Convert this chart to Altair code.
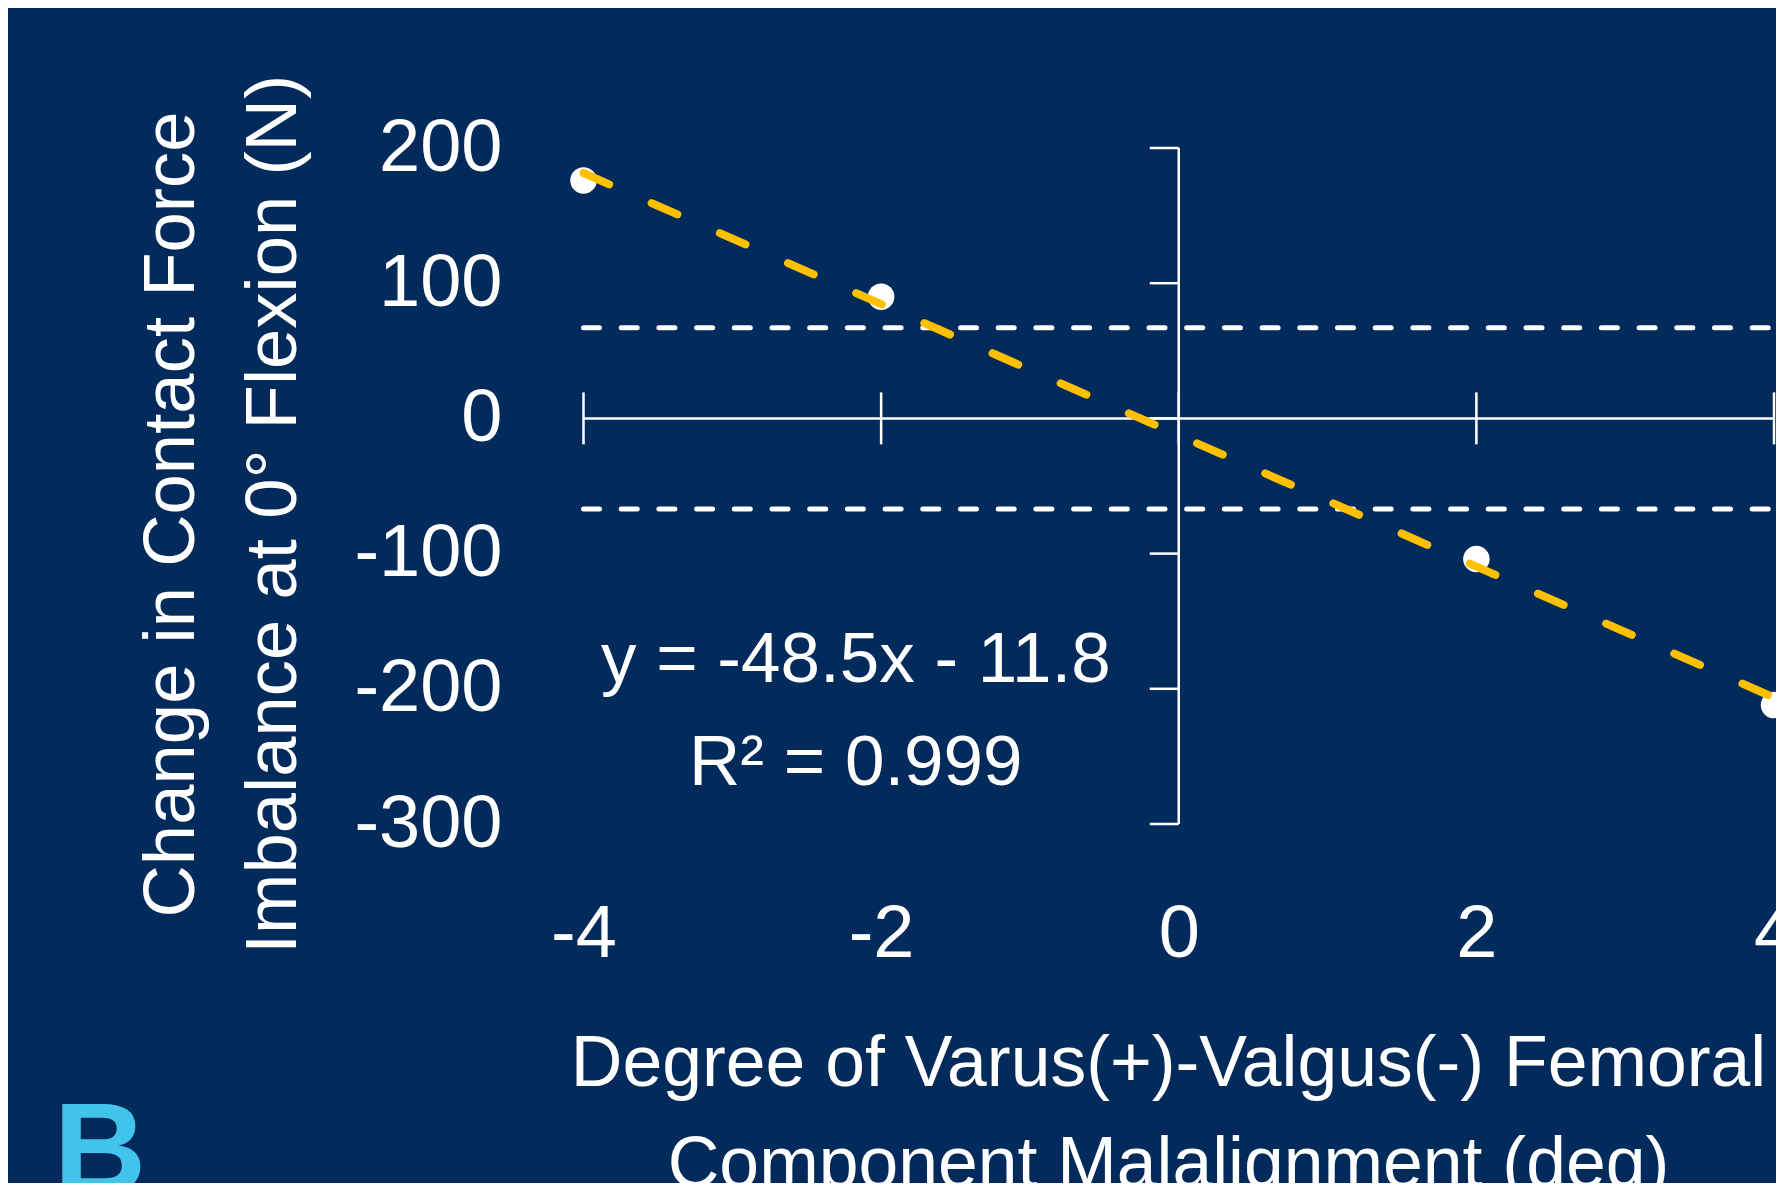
import altair as alt
import pandas as pd

# ---- data ----
x_vals = [-4, -2, 2, 4]
y_vals = [176, 90, -104, -212]
x_ticks = [-4, -2, 0, 2, 4]
y_ticks = [-300, -200, -100, 0, 100, 200]
thresholds = [67, -67]
threshold_x_end = 4.1
eq_text = ["y = -48.5x - 11.8", "R\u00b2 = 0.999"]
eq_x = [-2.17, -2.17]
eq_y = [-195, -271]
panel_text = ["B"]
panel_x = [-7.56]
panel_y = [-572]

x_title = ["Degree of Varus(+)-Valgus(-) Femoral", "Component Malalignment (deg)"]
y_title = ["Change in Contact Force", "Imbalance at 0\u00b0 Flexion (N)"]

BG = "#022b5b"
GOLD = "#FFC000"
CYAN = "#41C4EC"
FONT = "Liberation Sans"

pts = pd.DataFrame({"x": x_vals, "y": y_vals})
xaxis_line = pd.DataFrame({"x": [min(x_ticks)], "x2": [max(x_ticks)], "y": [0]})
yaxis_line = pd.DataFrame({"x": [0], "y": [min(y_ticks)], "y2": [max(y_ticks)]})
xtick_df = pd.DataFrame({"x": x_ticks, "y": [0] * len(x_ticks)})
ytick_df = pd.DataFrame({"x": [0] * len(y_ticks), "y": y_ticks})
thr_df = pd.DataFrame({"x": [min(x_ticks)] * len(thresholds),
                       "x2": [threshold_x_end] * len(thresholds),
                       "y": thresholds})
eq_df = pd.DataFrame({"x": eq_x, "y": eq_y, "label": eq_text})
panel_df = pd.DataFrame({"x": panel_x, "y": panel_y, "label": panel_text})

xscale = alt.Scale(domain=[min(x_ticks), max(x_ticks)], nice=False, zero=False)
yscale = alt.Scale(domain=[min(y_ticks), max(y_ticks)], nice=False, zero=False)

label_expr = "datum.value < 0 ? '-' + abs(datum.value) : '' + datum.value"

xaxis = alt.Axis(
    values=x_ticks, domain=False, ticks=False, grid=False,
    labelFont=FONT, labelFontSize=74, labelColor="white", labelPadding=74,
    labelFlush=False, labelOverlap=False, labelExpr=label_expr,
    title=x_title, titleFont=FONT, titleFontSize=71.5, titleFontWeight="normal",
    titleColor="white", titleLineHeight=101, titleX=584.5, titleY=261,
    titleAlign="center", titleBaseline="alphabetic", titleAngle=0,
)
yaxis = alt.Axis(
    values=y_ticks, domain=False, ticks=False, grid=False,
    labelFont=FONT, labelFontSize=74, labelColor="white", labelPadding=81.5,
    labelFlush=False, labelOverlap=False, labelExpr=label_expr,
    title=y_title, titleFont=FONT, titleFontSize=72.5, titleFontWeight="normal",
    titleColor="white", titleLineHeight=102, titleX=-390, titleY=366,
    titleAlign="center", titleBaseline="alphabetic", titleAngle=270,
)

X = alt.X("x:Q", scale=xscale, axis=xaxis)
Y = alt.Y("y:Q", scale=yscale, axis=yaxis)

x_line = alt.Chart(xaxis_line).mark_rule(color="white", strokeWidth=2.5).encode(
    x=X, x2="x2:Q", y=Y)
y_line = alt.Chart(yaxis_line).mark_rule(color="white", strokeWidth=2.5).encode(
    x=X, y=Y, y2="y2:Q")
x_tick_marks = alt.Chart(xtick_df).mark_tick(
    color="white", orient="vertical", size=52, thickness=2.5, opacity=1
).encode(x=X, y=Y)
y_tick_marks = alt.Chart(ytick_df).mark_tick(
    color="white", orient="horizontal", size=29, thickness=2.5, opacity=1, xOffset=-14.5
).encode(x=X, y=Y)
thr_lines = alt.Chart(thr_df).mark_rule(
    color="white", strokeWidth=5, strokeDash=[16, 21.7], strokeCap="round"
).encode(x=X, x2="x2:Q", y=Y)
points = alt.Chart(pts).mark_point(
    shape="circle", filled=True, fill="white", stroke="white", strokeWidth=0,
    size=700, opacity=1
).encode(x=X, y=Y)
trend = alt.Chart(pts).transform_regression("x", "y").mark_line(
    color=GOLD, strokeWidth=8, strokeDash=[28, 46.5], strokeCap="round"
).encode(x=X, y=Y)
eq = alt.Chart(eq_df).mark_text(
    font=FONT, fontSize=71, color="white", align="center", baseline="alphabetic"
).encode(x=X, y=Y, text="label:N")
panel = alt.Chart(panel_df).mark_text(
    font=FONT, fontSize=128, fontWeight="bold", color=CYAN, align="left", baseline="alphabetic"
).encode(x=X, y=Y, text="label:N")

chart = alt.layer(
    x_line, y_line, x_tick_marks, y_tick_marks, thr_lines, points, trend, eq, panel
).properties(
    width=1190.5, height=676,
    padding={"left": 575.5, "top": 140, "right": 2, "bottom": 359},
    autosize="none",
    background=BG,
).configure_view(strokeWidth=0)

chart.save("out.html", embed_options={"renderer": "svg", "actions": False})
